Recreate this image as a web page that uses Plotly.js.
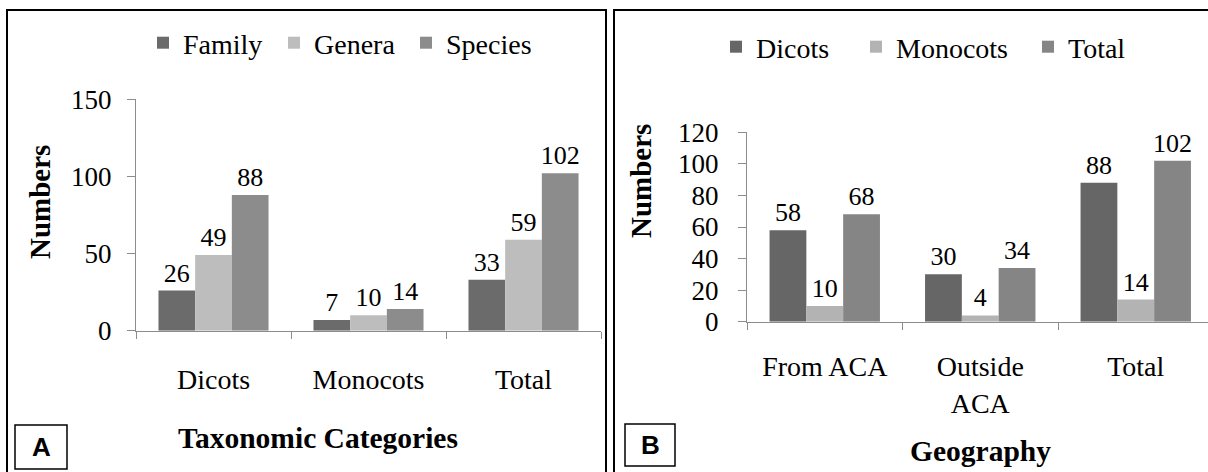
<!DOCTYPE html>
<html>
<head>
<meta charset="utf-8">
<script src="https://cdn.plot.ly/plotly-3.0.1.min.js"></script>
<style>
  html, body { margin: 0; padding: 0; background: #fff; }
  #chart { width: 1208px; height: 472px; }
</style>
</head>
<body>
<div id="chart"></div>
<script>
// ---- Data ----
const categoriesA = ['Dicots', 'Monocots', 'Total'];
const family  = [26, 7, 33];
const genera  = [49, 10, 59];
const species = [88, 14, 102];

const categoriesB = ['From ACA', 'Outside<br>ACA', 'Total'];
const dicots   = [58, 30, 88];
const monocots = [10, 4, 14];
const totalB   = [68, 34, 102];

const seriesNamesA = ['Family', 'Genera', 'Species'];
const seriesNamesB = ['Dicots', 'Monocots', 'Total'];

// ---- Styles ----
const W = 1208, H = 472;
const SERIF = 'Liberation Serif';
const SANS = 'Liberation Sans';
const px = v => v / W;
const py = v => (H - v) / H;
const colorsA = ['#6b6b6b', '#bdbdbd', '#8c8c8c'];
const colorsB = ['#666666', '#b3b3b3', '#858585'];
const axisColor = '#8c8c8c';

function barTrace(name, xs, ys, color, xa, ya, legend) {
  return {
    type: 'bar', name: name, x: xs, y: ys,
    xaxis: xa, yaxis: ya, legend: legend,
    marker: { color: color, line: { width: 0 } },
    text: ys.map(String), textposition: 'outside',
    textfont: { family: SERIF, size: 26, color: '#000' },
    constraintext: 'none', cliponaxis: false,
    hoverinfo: 'x+y+name'
  };
}

const data = [
  barTrace(seriesNamesA[0], categoriesA, family,  colorsA[0], 'x', 'y', 'legend'),
  barTrace(seriesNamesA[1], categoriesA, genera,  colorsA[1], 'x', 'y', 'legend2'),
  barTrace(seriesNamesA[2], categoriesA, species, colorsA[2], 'x', 'y', 'legend3'),
  barTrace(seriesNamesB[0], categoriesB, dicots,   colorsB[0], 'x2', 'y2', 'legend4'),
  barTrace(seriesNamesB[1], categoriesB, monocots, colorsB[1], 'x2', 'y2', 'legend5'),
  barTrace(seriesNamesB[2], categoriesB, totalB,   colorsB[2], 'x2', 'y2', 'legend6')
];

function xAxis(domain, range) {
  return {
    domain: domain, range: range, type: 'category',
    showline: true, linecolor: axisColor, linewidth: 1,
    ticks: 'outside', tickson: 'boundaries', ticklen: 7, tickcolor: axisColor,
    showgrid: false, zeroline: false, fixedrange: true,
    tickfont: { family: SERIF, size: 28, color: '#000' },
    ticklabelstandoff: 24, automargin: false
  };
}
function yAxis(domain, range, dtick, anchor, standoff) {
  return {
    domain: domain, range: range, dtick: dtick, anchor: anchor,
    showline: true, linecolor: axisColor, linewidth: 1,
    ticks: 'outside', ticklen: 8, tickcolor: axisColor,
    showgrid: false, zeroline: false, fixedrange: true,
    tickfont: { family: SERIF, size: 27, color: '#000' },
    ticklabelstandoff: standoff, automargin: false
  };
}

function legendAt(textLeft, yCenter) {
  return {
    orientation: 'h', x: px(textLeft - 40), xanchor: 'left', y: py(yCenter), yanchor: 'middle',
    font: { family: SERIF, size: 28, color: '#000' },
    bgcolor: 'rgba(0,0,0,0)', borderwidth: 0, itemclick: false, itemdoubleclick: false
  };
}

function ann(text, x, y, size, family, extra) {
  return Object.assign({
    text: text, xref: 'paper', yref: 'paper', x: px(x), y: py(y),
    xanchor: 'center', yanchor: 'middle', showarrow: false,
    font: { family: family, size: size, color: '#000' }
  }, extra || {});
}

const layout = {
  width: W, height: H,
  margin: { l: 0, r: 0, t: 0, b: 0 },
  paper_bgcolor: '#fff', plot_bgcolor: 'rgba(0,0,0,0)',
  barmode: 'group', bargap: 0.29, bargroupgap: 0,
  showlegend: true,
  font: { family: SERIF, color: '#000' },
  xaxis:  xAxis([px(136), px(601)], [-0.5, 2.5]),
  yaxis:  yAxis([py(330.7), py(99.3)], [0, 150], 50, 'x', 10),
  xaxis2: Object.assign(xAxis([px(747), 1], [-0.5, -0.5 + (W - 747) / 155.5]), { anchor: 'y2', ticklabelstandoff: 20 }),
  yaxis2: yAxis([py(321.7), py(132.3)], [0, 120], 20, 'x2', 14),
  legend:  legendAt(183, 43),
  legend2: legendAt(314, 43),
  legend3: legendAt(446, 43),
  legend4: legendAt(756, 47),
  legend5: legendAt(896, 47),
  legend6: legendAt(1068, 47),
  annotations: [
    ann('<b>Numbers</b>', 40, 202, 29, SERIF, { textangle: -90 }),
    ann('<b>Numbers</b>', 641, 181, 29, SERIF, { textangle: -90 }),
    ann('<b>Taxonomic Categories</b>', 318, 438, 29.5, SERIF),
    ann('<b>Geography</b>', 980, 451, 29.5, SERIF),
    ann('<b>A</b>', 41, 447, 26, SANS),
    ann('<b>B</b>', 650, 445, 26, SANS)
  ],
  shapes: [
    { type: 'rect', xref: 'paper', yref: 'paper', x0: px(7), x1: px(606), y0: -0.1, y1: py(10),
      line: { color: '#000', width: 2 }, fillcolor: 'rgba(0,0,0,0)' },
    { type: 'rect', xref: 'paper', yref: 'paper', x0: px(614), x1: 1.1, y0: -0.1, y1: py(10),
      line: { color: '#000', width: 2 }, fillcolor: 'rgba(0,0,0,0)' },
    { type: 'rect', xref: 'paper', yref: 'paper', x0: px(15), x1: px(67), y0: py(469), y1: py(425),
      line: { color: '#000', width: 1.5 }, fillcolor: 'rgba(0,0,0,0)' },
    { type: 'rect', xref: 'paper', yref: 'paper', x0: px(625), x1: px(675), y0: py(466), y1: py(424),
      line: { color: '#000', width: 1.5 }, fillcolor: 'rgba(0,0,0,0)' }
  ]
};

Plotly.newPlot('chart', data, layout, { staticPlot: true, displayModeBar: false });
</script>
</body>
</html>
